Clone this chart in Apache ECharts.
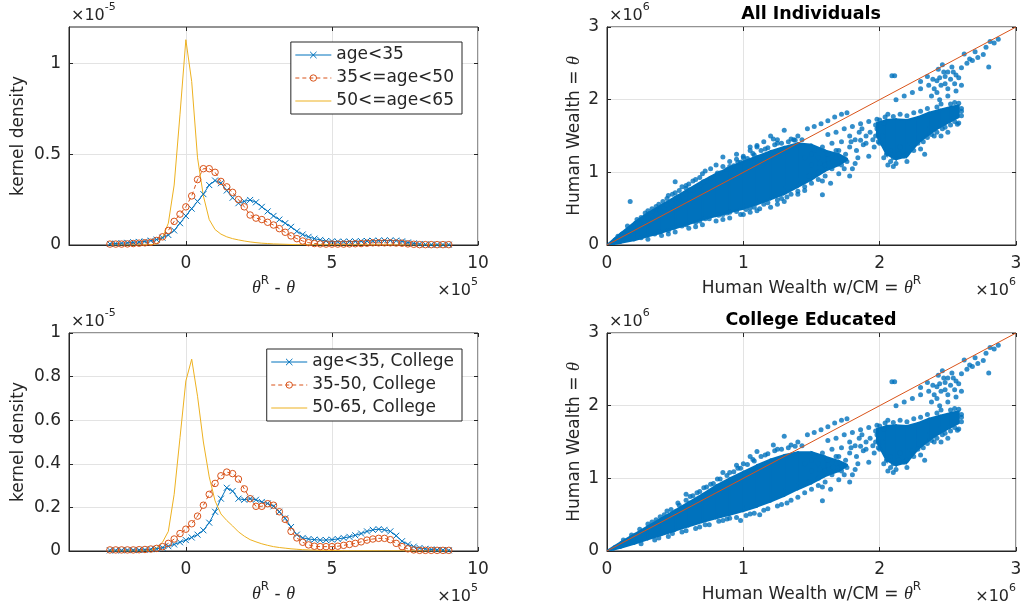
<!DOCTYPE html>
<html>
<head>
<meta charset="utf-8"/>
<title>Human wealth</title>
<script src="https://cdn.jsdelivr.net/npm/echarts@6/dist/echarts.min.js"></script>
</head>
<body style="margin:0;background:#fff">
<div id="main" style="width:1021px;height:609px"></div>
<script type="text/javascript">
// kernel density grid, theta^R - theta (x1e5)
var kdeX = [-2.6,-2.4,-2.2,-2.0,-1.8,-1.6,-1.4,-1.2,-1.0,-0.8,-0.6,-0.4,-0.2,0,0.2,0.4,0.6,0.8,1.0,1.2,
    1.4,1.6,1.8,2.0,2.2,2.4,2.6,2.8,3.0,3.2,3.4,3.6,3.8,4.0,4.2,4.4,4.6,4.8,5.0,5.2,
    5.4,5.6,5.8,6.0,6.2,6.4,6.6,6.8,7.0,7.2,7.4,7.6,7.8,8.0,8.2,8.4,8.6,8.8,9.0];

// densities (x1e-5), all individuals
var ageYoung = [0.006,0.008,0.01,0.012,0.015,0.017,0.02,0.024,0.03,0.04,0.055,0.08,0.12,0.16,0.2,0.24,0.28,0.33,0.355,0.34,
    0.3,0.26,0.23,0.24,0.248,0.235,0.21,0.185,0.16,0.14,0.12,0.1,0.075,0.058,0.045,0.035,0.028,0.022,0.02,0.018,
    0.018,0.019,0.02,0.021,0.022,0.023,0.024,0.025,0.025,0.024,0.02,0.014,0.009,0.005,0.003,0.002,0.002,0.002,0.002];
var ageMid = [0.005,0.005,0.005,0.006,0.008,0.01,0.012,0.015,0.025,0.045,0.08,0.13,0.17,0.21,0.27,0.36,0.42,0.42,0.40,0.35,
    0.32,0.29,0.25,0.21,0.165,0.148,0.14,0.125,0.11,0.09,0.07,0.05,0.035,0.022,0.013,0.008,0.006,0.005,0.005,0.005,
    0.005,0.006,0.007,0.008,0.01,0.012,0.012,0.012,0.012,0.011,0.01,0.006,0.004,0.002,0.002,0.002,0.002,0.002,0.002];
var ageOld = [0,0,0,0,0,0,0.001,0.002,0.006,0.04,0.12,0.33,0.72,1.13,0.9,0.48,0.27,0.14,0.085,0.06,
    0.045,0.035,0.028,0.022,0.017,0.013,0.01,0.008,0.006,0.005,0.004,0.003,0.002,0.002,0.001,0.001,0.001,0.001,0.001,0.001,
    0.001,0.001,0.001,0.001,0.001,0.001,0.001,0.001,0.001,0,0,0,0,0,0,0,0,0,0];

// densities (x1e-5), college educated
var colYoung = [0.003,0.003,0.003,0.004,0.004,0.005,0.006,0.008,0.01,0.015,0.022,0.03,0.04,0.05,0.062,0.075,0.095,0.13,0.18,0.24,
    0.29,0.275,0.24,0.235,0.24,0.235,0.225,0.218,0.205,0.18,0.15,0.11,0.075,0.06,0.055,0.052,0.05,0.05,0.052,0.055,
    0.06,0.065,0.072,0.08,0.09,0.097,0.1,0.097,0.09,0.07,0.045,0.03,0.02,0.014,0.01,0.007,0.005,0.004,0.003];
var colMid = [0.005,0.005,0.005,0.005,0.005,0.006,0.007,0.009,0.012,0.02,0.035,0.055,0.08,0.1,0.125,0.16,0.21,0.26,0.31,0.345,
    0.362,0.355,0.33,0.285,0.24,0.205,0.205,0.217,0.21,0.18,0.145,0.09,0.06,0.04,0.028,0.022,0.02,0.02,0.02,0.022,
    0.026,0.03,0.035,0.042,0.05,0.055,0.058,0.058,0.052,0.035,0.02,0.01,0.005,0.003,0.003,0.003,0.003,0.003,0.003];
var colOld = [0,0,0,0,0,0,0.001,0.003,0.015,0.04,0.09,0.26,0.52,0.78,0.88,0.71,0.5,0.34,0.23,0.17,
    0.14,0.115,0.088,0.068,0.052,0.042,0.033,0.026,0.02,0.016,0.013,0.01,0.008,0.006,0.005,0.004,0.003,0.003,0.002,0.002,
    0.001,0.001,0.001,0.001,0.001,0.001,0.001,0.001,0.001,0.001,0.001,0,0,0,0,0,0,0,0];

var legendAll = ['age<35', '35<=age<50', '50<=age<65'];
var legendCol = ['age<35, College', '35-50, College', '50-65, College'];

// scatter panels, human wealth (x1e6): dense core of the cloud, lower and upper edge per column
var bandX = [0,0.05,0.1,0.2,0.3,0.4,0.5,0.6,0.7,0.8,0.9,1.0,1.1,1.2,1.3,1.4,1.5,1.6,1.7,1.76];
var allLo = [0,0.015,0.03,0.065,0.12,0.17,0.23,0.29,0.35,0.4,0.45,0.5,0.56,0.63,0.7,0.8,0.9,1.02,1.1,1.17];
var allHi = [0,0.08,0.16,0.31,0.44,0.55,0.66,0.77,0.88,0.98,1.07,1.15,1.22,1.29,1.35,1.4,1.38,1.3,1.25,1.19];
var colLo = [0,0.02,0.045,0.1,0.16,0.22,0.28,0.34,0.4,0.45,0.5,0.55,0.61,0.68,0.76,0.85,0.93,1.03,1.1,1.17];
var colHi = [0,0.06,0.12,0.23,0.34,0.45,0.56,0.67,0.78,0.9,1.0,1.09,1.18,1.26,1.32,1.36,1.36,1.3,1.24,1.19];
// dense cluster at the upper right (same in both panels)
var clusX  = [1.98,2.05,2.12,2.2,2.28,2.36,2.44,2.52,2.58];
var clusLo = [1.5,1.25,1.18,1.22,1.4,1.52,1.62,1.7,1.76];
var clusHi = [1.68,1.72,1.73,1.72,1.76,1.82,1.86,1.9,1.92];

// individual points seen in both panels
var colPts = [
    [0.12,0.15],[0.18,0.22],[0.24,0.3],[0.3,0.37],[0.36,0.43],[0.42,0.5],[0.47,0.57],[0.53,0.63],[0.58,0.7],[0.63,0.76],
    [0.68,0.82],[0.73,0.88],[0.78,0.93],[0.83,0.99],[0.88,1.04],[0.93,1.09],[0.98,1.14],[1.03,1.19],[1.08,1.24],[1.13,1.3],
    [1.18,1.34],[1.23,1.38],[1.28,1.4],[1.33,1.42],[1.38,1.44],[1.43,1.45],
    [0.33,0.4],[0.39,0.47],[0.44,0.55],[0.52,0.66],[0.61,0.75],[0.66,0.8],[0.71,0.87],[0.76,0.92],[0.81,0.99],[0.9,1.08],
    [0.96,1.14],[1.0,1.2],[1.07,1.26],[1.16,1.32],[1.25,1.4],[1.35,1.46],[1.4,1.5],
    [0.58,0.78],[0.85,1.08],[0.95,1.18],[1.05,1.3],[1.22,1.46],[1.3,1.58],[1.1,1.37],
    [0.25,0.1],[0.35,0.15],[0.45,0.2],[0.55,0.26],[0.65,0.31],[0.75,0.36],[0.85,0.42],[0.95,0.46],[1.05,0.51],[1.15,0.56],
    [1.25,0.62],[1.35,0.7],[1.45,0.8],[0.98,0.42],[1.12,0.5],
    [0.38,0.18],[0.48,0.24],[0.58,0.28],[0.68,0.33],[0.72,0.36],[0.82,0.41],[0.88,0.44],[1.02,0.49],[1.08,0.52],[1.18,0.58],
    [1.28,0.64],[1.32,0.66],[1.4,0.74],[1.5,0.85],[1.55,0.9],[0.9,0.45],
    [1.45,1.2],[1.5,1.1],[1.52,1.3],[1.55,1.0],[1.55,1.2],[1.58,1.35],[1.6,1.1],[1.6,0.95],[1.62,1.25],[1.65,1.05],
    [1.65,1.4],[1.68,1.2],[1.7,1.3],[1.72,1.1],[1.72,1.42],[1.75,1.25],[1.78,1.35],[1.58,0.88],[1.64,0.85],[1.7,0.98],
    [1.58,0.69],[1.5,1.25],[1.48,0.95],[1.62,1.18],[1.68,1.3],[1.56,1.12],[1.66,1.15],
    [1.47,1.6],[1.52,1.63],[1.57,1.67],[1.62,1.71],[1.67,1.76],[1.72,1.8],[1.76,1.82],
    [1.62,1.52],[1.68,1.55],[1.74,1.6],[1.8,1.63],[1.86,1.67],[1.92,1.7],[1.98,1.73],[2.04,1.76],
    [1.82,1.45],[1.85,1.55],[1.9,1.5],[1.88,1.38],[1.95,1.45],[1.84,1.2],[1.92,1.22],[1.8,1.05],[1.78,1.5],
    [1.79,1.42],[1.83,1.3],[1.86,1.44],[1.9,1.4],[1.93,1.55],[1.96,1.35],[1.99,1.42],[1.87,1.6],[1.97,1.65],[1.82,1.12],
    [1.76,1.15],[1.74,1.05],[1.78,0.95],
    [2.03,1.2],[2.08,1.15],[2.12,1.12],[2.18,1.22],[2.25,1.3],[2.3,1.32],[2.15,1.35],
    [2.1,1.08],[2.06,1.1],[2.2,1.15],[2.33,1.25],[2.5,1.55],[2.57,1.66],[2.45,1.5],
    [2.0,1.72],[2.06,1.8],[2.15,1.8],[2.25,1.82],[2.35,1.88],[2.45,1.94],[2.55,1.96],[2.6,1.88],[2.58,1.68],[2.48,1.62],
    [2.4,1.5],[2.32,1.42],[2.02,1.5],[1.98,1.6],
    [1.97,1.5],[2.0,1.4],[2.05,1.25],[2.08,1.3],[2.1,1.2],[2.14,1.25],[2.2,1.25],[2.24,1.38],[2.28,1.4],[2.35,1.48],
    [2.38,1.52],[2.42,1.55],[2.46,1.6],[2.52,1.65],[2.55,1.7],[2.6,1.78],[2.6,1.84],[2.58,1.95],[2.52,1.94],[2.42,1.9],
    [2.3,1.84],[2.2,1.78],[2.1,1.77],[2.03,1.68],
    [2.12,2.0],[2.18,2.05],[2.24,2.1],[2.3,2.15],[2.36,2.2],[2.42,2.26],[2.48,2.32],[2.54,2.38],[2.6,2.44],[2.64,2.5],
    [2.68,2.54],[2.72,2.58],[2.76,2.62],
    [2.38,2.05],[2.42,2.1],[2.45,2.2],[2.5,2.15],[2.5,2.05],[2.52,2.28],[2.55,2.22],[2.47,2.38],[2.58,2.3],[2.6,2.2],
    [2.46,2.48],[2.3,2.25],[2.35,2.32],[2.56,2.12],[2.44,2.0],
    [2.4,2.15],[2.44,2.3],[2.48,2.22],[2.53,2.45],[2.5,2.38],[2.56,2.34],[2.43,2.42],[2.39,2.28],
    [2.09,2.33],[2.11,2.33],
    [2.62,2.63],[2.7,2.66],[2.78,2.72],[2.81,2.8],[2.84,2.78],[2.87,2.83],[2.8,2.45],[2.66,2.56]
];
// extra points only in the all-individuals panel
var restPts = [
    [0.08,0.12],[0.15,0.26],[0.17,0.6],[0.22,0.35],[0.28,0.44],[0.33,0.5],[0.38,0.56],[0.41,0.6],[0.45,0.68],[0.5,0.72],
    [0.5,0.87],[0.55,0.8],[0.6,0.84],[0.65,0.9],[0.7,0.98],[0.72,1.02],[0.76,1.05],[0.85,1.21],[0.9,1.15],[1.05,1.35],
    [1.15,1.42],[1.2,1.5],[1.37,1.45],
    [0.25,0.38],[0.3,0.47],[0.36,0.53],[0.44,0.64],[0.48,0.7],[0.53,0.75],[0.58,0.82],[0.63,0.88],[0.68,0.93],[0.8,1.1],
    [0.95,1.25],[1.0,1.22],[1.1,1.35],[1.25,1.45],
    [0.3,0.08],[0.4,0.13],[0.5,0.18],[0.6,0.23],[0.7,0.28],[0.8,0.33],[0.9,0.37],[1.0,0.42],[1.1,0.47],[1.2,0.52],
    [1.3,0.6],[1.4,0.7],[0.45,0.15],[0.65,0.25],[0.85,0.35],[1.05,0.45],[1.25,0.56],[1.45,0.75]
];
var diagLine = [[0,0],[3,3]];

var kdeXTicks = [0, 5, 10];
var kdeYTicksAll = [0, 0.5, 1];
var kdeYTicksCol = [0, 0.2, 0.4, 0.6, 0.8, 1];
var hwTicks = [0, 1, 2, 3];

var blue = '#0072BD', orange = '#D95319', yellow = '#EDB120', ink = '#262626';
var font = 'DejaVu Sans';
var fs = 17;
var xMark = 'path://M0,0L10,10M0,10L10,0';

var myChart = echarts.init(document.getElementById('main'));

function axisPair(gi, min, max, ticks, isY, name, gap) {
    var main = {
        type: 'value', gridIndex: gi, min: min, max: max,
        position: isY ? 'left' : 'bottom',
        name: name, nameLocation: 'middle', nameGap: gap,
        nameTextStyle: {
            color: ink, fontFamily: font, fontSize: fs,
            rich: {
                t: {fontFamily: 'Liberation Serif', fontStyle: 'italic', fontSize: 18, color: ink, lineHeight: 22, verticalAlign: 'bottom'},
                n: {fontFamily: font, fontSize: fs, color: ink, lineHeight: 22, verticalAlign: 'bottom'},
                s: {fontFamily: font, fontSize: 12, color: ink, lineHeight: 12, verticalAlign: 'top'}
            }
        },
        axisLine: {show: true, onZero: false, lineStyle: {color: ink, width: 1}},
        axisTick: {show: true, inside: true, length: 4, customValues: ticks, lineStyle: {color: ink}},
        axisLabel: {show: true, customValues: ticks, color: ink, fontFamily: font, fontSize: fs, margin: isY ? 8 : 10},
        splitLine: {show: true, lineStyle: {color: '#e3e3e3', width: 1}}
    };
    if (isY) main.nameRotate = 90;
    var mirror = {
        type: 'value', gridIndex: gi, min: min, max: max,
        position: isY ? 'right' : 'top',
        axisLine: {show: false, onZero: false},
        axisTick: {show: true, inside: true, length: 4, customValues: ticks, lineStyle: {color: ink}},
        axisLabel: {show: false},
        splitLine: {show: false}
    };
    return [main, mirror];
}

var grids = [
    {left: 69, top: 27, width: 409, height: 218},
    {left: 607, top: 27, width: 409, height: 218},
    {left: 69, top: 333, width: 409, height: 218},
    {left: 607, top: 333, width: 409, height: 218}
].map(function (g) {
    g.show = true; g.borderColor = ink; g.borderWidth = 1; g.backgroundColor = '#fff';
    g.containLabel = false; g.outerBoundsMode = 'none';
    return g;
});

var thetaName = '{t|θ}{s|R}{n| - }{t|θ}';
var xAxes = [], yAxes = [];
[
    axisPair(0, -4, 10, kdeXTicks, false, thetaName, 30),
    axisPair(1, 0, 3, hwTicks, false, '{n|Human Wealth w/CM = }{t|θ}{s|R}', 30),
    axisPair(2, -4, 10, kdeXTicks, false, thetaName, 30),
    axisPair(3, 0, 3, hwTicks, false, '{n|Human Wealth w/CM = }{t|θ}{s|R}', 30)
].forEach(function (p) { xAxes.push(p[0], p[1]); });
[
    axisPair(0, 0, 1.2, kdeYTicksAll, true, 'kernel density', 42),
    axisPair(1, 0, 3, hwTicks, true, '{n|Human Wealth = }{t|θ}', 24),
    axisPair(2, 0, 1, kdeYTicksCol, true, 'kernel density', 42),
    axisPair(3, 0, 3, hwTicks, true, '{n|Human Wealth = }{t|θ}', 24)
].forEach(function (p) { yAxes.push(p[0], p[1]); });

// main axis of panel k is index 2k
function kdeLine(name, ys, k, kind) {
    var s = {
        type: 'line', name: name, xAxisIndex: 2 * k, yAxisIndex: 2 * k,
        data: kdeX.map(function (x, i) { return [x, ys[i]]; }),
        showAllSymbol: true, silent: true
    };
    if (kind === 0) {
        s.symbol = xMark; s.symbolSize = 6;
        s.lineStyle = {color: blue, width: 1};
        s.itemStyle = {color: 'rgba(0,0,0,0)', borderColor: blue, borderWidth: 1};
    } else if (kind === 1) {
        s.symbol = 'circle'; s.symbolSize = 6.5;
        s.lineStyle = {color: orange, width: 1, type: [4, 3]};
        s.itemStyle = {color: 'rgba(0,0,0,0)', borderColor: orange, borderWidth: 1};
    } else {
        s.symbol = 'none';
        s.lineStyle = {color: yellow, width: 1};
        s.itemStyle = {color: 'rgba(0,0,0,0)', borderWidth: 0};
    }
    return s;
}

function band(xs, lo, hi, k) {
    return {
        type: 'custom', xAxisIndex: 2 * k, yAxisIndex: 2 * k, silent: true, clip: true,
        data: xs.slice(0, -1).map(function (x, i) { return [x, lo[i]]; }),
        renderItem: function (params, api) {
            var i = params.dataIndex;
            var pts = [
                api.coord([xs[i], lo[i]]), api.coord([xs[i + 1], lo[i + 1]]),
                api.coord([xs[i + 1], hi[i + 1]]), api.coord([xs[i], hi[i]])
            ];
            return {type: 'polygon', shape: {points: pts}, style: {fill: blue, stroke: blue, lineWidth: 2}};
        }
    };
}

function dots(pts, k) {
    return {
        type: 'scatter', xAxisIndex: 2 * k, yAxisIndex: 2 * k, data: pts,
        symbolSize: 5, itemStyle: {color: blue}, silent: true
    };
}

function diag(k) {
    return {
        type: 'line', xAxisIndex: 2 * k, yAxisIndex: 2 * k, data: diagLine, symbol: 'none', z: 5,
        lineStyle: {color: orange, width: 1}, silent: true
    };
}

var series = [
    kdeLine(legendAll[0], ageYoung, 0, 0),
    kdeLine(legendAll[1], ageMid, 0, 1),
    kdeLine(legendAll[2], ageOld, 0, 2),
    kdeLine(legendCol[0], colYoung, 2, 0),
    kdeLine(legendCol[1], colMid, 2, 1),
    kdeLine(legendCol[2], colOld, 2, 2),
    band(bandX, allLo, allHi, 1), band(clusX, clusLo, clusHi, 1),
    dots(colPts, 1), dots(restPts, 1), diag(1),
    band(bandX, colLo, colHi, 3), band(clusX, clusLo, clusHi, 3),
    dots(colPts, 3), diag(3)
];

function legendBox(names, top) {
    return {
        data: names, orient: 'vertical', right: 559, top: top,
        itemWidth: 36, itemHeight: 8, itemGap: 3, padding: [3, 8, 3, 4],
        borderColor: ink, borderWidth: 1, backgroundColor: '#fff', borderRadius: 0,
        selectedMode: false,
        lineStyle: {width: 1},
        itemStyle: {borderWidth: 1},
        textStyle: {color: ink, fontFamily: font, fontSize: fs, lineHeight: 20}
    };
}

var expRich = {
    b: {fontFamily: font, fontSize: 16, lineHeight: 22, verticalAlign: 'bottom', fill: ink},
    s: {fontFamily: font, fontSize: 11, lineHeight: 12, verticalAlign: 'top', fill: ink}
};
function expText(txt, x, y, align) {
    return {
        type: 'text', x: x, y: y, silent: true,
        style: {text: txt, rich: expRich, fill: ink, align: align, verticalAlign: 'top', font: '16px "DejaVu Sans"'}
    };
}
function titleText(txt, y) {
    return {
        type: 'text', x: 811, y: y, silent: true,
        style: {text: txt, fill: '#000', align: 'center', verticalAlign: 'middle', font: 'bold 17.5px "DejaVu Sans"'}
    };
}

var option = {
    animation: false,
    backgroundColor: '#fff',
    grid: grids,
    xAxis: xAxes,
    yAxis: yAxes,
    legend: [legendBox(legendAll, 42), legendBox(legendCol, 349)],
    graphic: [
        expText('{b|×10}{s|-5}', 71, 2, 'left'),
        expText('{b|×10}{s|5}', 478, 277, 'right'),
        expText('{b|×10}{s|6}', 609, 2, 'left'),
        expText('{b|×10}{s|6}', 1016, 277, 'right'),
        expText('{b|×10}{s|-5}', 71, 308, 'left'),
        expText('{b|×10}{s|5}', 478, 583, 'right'),
        expText('{b|×10}{s|6}', 609, 308, 'left'),
        expText('{b|×10}{s|6}', 1016, 583, 'right'),
        titleText('All Individuals', 14),
        titleText('College Educated', 320)
    ],
    series: series
};

myChart.setOption(option);
</script>
</body>
</html>
